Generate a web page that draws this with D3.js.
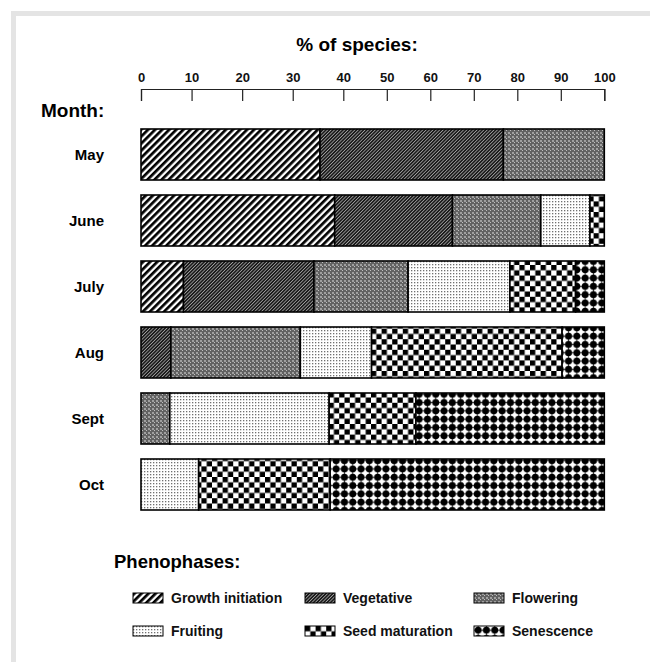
<!DOCTYPE html>
<html>
<head>
<meta charset="utf-8">
<script src="https://cdn.jsdelivr.net/npm/d3@7"></script>
<style>
  body { margin: 0; background: #fff; }
  svg { display: block; font-family: 'Liberation Sans', Arial, sans-serif; font-weight: bold; }
</style>
</head>
<body>
<svg id="chart" width="650" height="662"></svg>
<script>
'use strict'

// months (rows) and phenophases (stacked segments)
const months = ['May', 'June', 'July', 'Aug', 'Sept', 'Oct']
const phases = ['Growth initiation', 'Vegetative', 'Flowering', 'Fruiting', 'Seed maturation', 'Senescence']

// % of species per month, one array per phenophase
const growthInitiation = [35.4, 38.3, 8.4, 0, 0, 0]
const vegetative = [41.4, 26.8, 25.8, 5.9, 0, 0]
const flowering = [23.2, 20.3, 20.7, 25.6, 5.7, 0]
const fruiting = [0, 11.3, 23.4, 15.0, 31.5, 11.4]
const seedMaturation = [0, 3.3, 15.1, 43.8, 19.5, 26.0]
const senescence = [0, 0, 6.6, 9.7, 43.3, 62.6]

const xTicks = [0, 10, 20, 30, 40, 50, 60, 70, 80, 90, 100]

const series = [growthInitiation, vegetative, flowering, fruiting, seedMaturation, senescence]
const table = months.map((m, i) => {
    const row = { month: m }
    phases.forEach((p, j) => { row[p] = series[j][i] })
    return row
})

const svg = d3.select('#chart')

// light grey frame on top/left edge
svg.append('path')
    .attr('d', 'M13.5,662 V13.5 H650')
    .attr('fill', 'none')
    .attr('stroke', '#e4e4e4')
    .attr('stroke-width', 5)

// ---- fill patterns ----
const defs = svg.append('defs')

function pat(id, w, h, rot) {
    const p = defs.append('pattern')
        .attr('id', id)
        .attr('patternUnits', 'userSpaceOnUse')
        .attr('width', w)
        .attr('height', h)
    if (rot) p.attr('patternTransform', `rotate(${rot})`)
    return p
}

// growth initiation: bold diagonal stripes
let p = pat('p0', 5, 5, 45)
p.append('rect').attr('width', 5).attr('height', 5).attr('fill', '#fff')
p.append('rect').attr('width', 2.7).attr('height', 5).attr('fill', '#000')

// vegetative: fine dark diagonal hatch
p = pat('p1', 2.4, 2.4, 45)
p.append('rect').attr('width', 2.4).attr('height', 2.4).attr('fill', '#1a1a1a')
p.append('rect').attr('x', 1.6).attr('width', 0.8).attr('height', 2.4).attr('fill', '#a0a0a0')

// flowering: grey fine grid
p = pat('p2', 4, 4)
p.append('rect').attr('width', 4).attr('height', 4).attr('fill', '#626262')
p.append('rect').attr('width', 2).attr('height', 2).attr('fill', '#a0a0a0')
p.append('rect').attr('x', 2).attr('y', 2).attr('width', 1).attr('height', 1).attr('fill', '#c0c0c0')

// fruiting: sparse stipple
p = pat('p3', 3, 3)
p.append('rect').attr('width', 3).attr('height', 3).attr('fill', '#fff')
p.append('rect').attr('width', 1.3).attr('height', 1.3).attr('fill', '#707070')

// seed maturation: checkerboard
p = pat('p4', 10.6, 10.6)
p.append('rect').attr('width', 10.6).attr('height', 10.6).attr('fill', '#fff')
p.append('rect').attr('width', 5.3).attr('height', 5.3).attr('fill', '#000')
p.append('rect').attr('x', 5.3).attr('y', 5.3).attr('width', 5.3).attr('height', 5.3).attr('fill', '#000')

// senescence: black diamonds leaving white stars
p = pat('p5', 8.3, 8.3)
p.append('rect').attr('width', 8.3).attr('height', 8.3).attr('fill', '#fff')
p.append('path').attr('d', 'M4.15,0 L8.3,4.15 L4.15,8.3 L0,4.15 Z').attr('fill', '#000')
p.append('circle').attr('cx', 4.15).attr('cy', 4.15).attr('r', 3.5).attr('fill', '#000')

const color = d3.scaleOrdinal()
    .domain(phases)
    .range(phases.map((d, i) => `url(#p${i})`))

// ---- scales ----
// the printed axis is not evenly spaced: 0-40 is wider than 40-100
const x = d3.scaleLinear()
    .domain([0, 40, 100])
    .range([141, 343.3, 604.3])

const y = d3.scaleBand()
    .domain(months)
    .range([114, 525])
    .padding(15 / 66)

// ---- top axis ----
const axis = svg.append('g')
    .attr('transform', 'translate(0, 89)')
    .call(d3.axisTop(x)
        .tickValues(xTicks)
        .tickSize(-12)
        .tickPadding(7)
        .tickFormat(d3.format('d')))

axis.selectAll('path, line')
    .attr('stroke', '#222')
    .attr('stroke-width', 1.2)
axis.selectAll('text')
    .attr('font-family', 'Liberation Sans, Arial, sans-serif')
    .attr('font-weight', 'bold')
    .attr('font-size', 13)
    .attr('fill', '#111')

svg.append('text')
    .attr('x', 357)
    .attr('y', 51)
    .attr('text-anchor', 'middle')
    .attr('font-size', 19)
    .text('% of species:')

// ---- stacked bars ----
const stacked = d3.stack().keys(phases)(table)

const layer = svg.append('g')
    .selectAll('g')
    .data(stacked)
    .enter()
    .append('g')
    .attr('fill', (s) => color(s.key))

layer.selectAll('rect')
    .data((s) => s.filter((d) => d[1] - d[0] > 0))
    .enter()
    .append('rect')
    .attr('x', (d) => x(d[0]))
    .attr('y', (d) => y(d.data.month))
    .attr('width', (d) => x(d[1]) - x(d[0]))
    .attr('height', y.bandwidth())
    .attr('stroke', '#000')
    .attr('stroke-width', 1.6)

// month labels
svg.append('text')
    .attr('x', 41)
    .attr('y', 117)
    .attr('font-size', 19)
    .text('Month:')

svg.append('g')
    .selectAll('text')
    .data(months)
    .enter()
    .append('text')
    .attr('x', 104)
    .attr('y', (m) => y(m) + y.bandwidth() / 2)
    .attr('dy', '0.35em')
    .attr('text-anchor', 'end')
    .attr('font-size', 15)
    .text((m) => m)

// ---- legend ----
svg.append('text')
    .attr('x', 114)
    .attr('y', 568)
    .attr('font-size', 18.5)
    .text('Phenophases:')

const legendCols = [133, 305, 474]
const legend = svg.append('g')
    .selectAll('g')
    .data(phases)
    .enter()
    .append('g')
    .attr('transform', (d, i) => `translate(${legendCols[i % 3]}, ${i < 3 ? 593 : 626})`)

legend.append('rect')
    .attr('width', 30)
    .attr('height', 10)
    .attr('fill', (d) => color(d))
    .attr('stroke', '#000')
    .attr('stroke-width', 1)

legend.append('text')
    .attr('x', 38)
    .attr('y', 10)
    .attr('font-size', 14)
    .attr('fill', '#111')
    .text((d) => d)
</script>
</body>
</html>
